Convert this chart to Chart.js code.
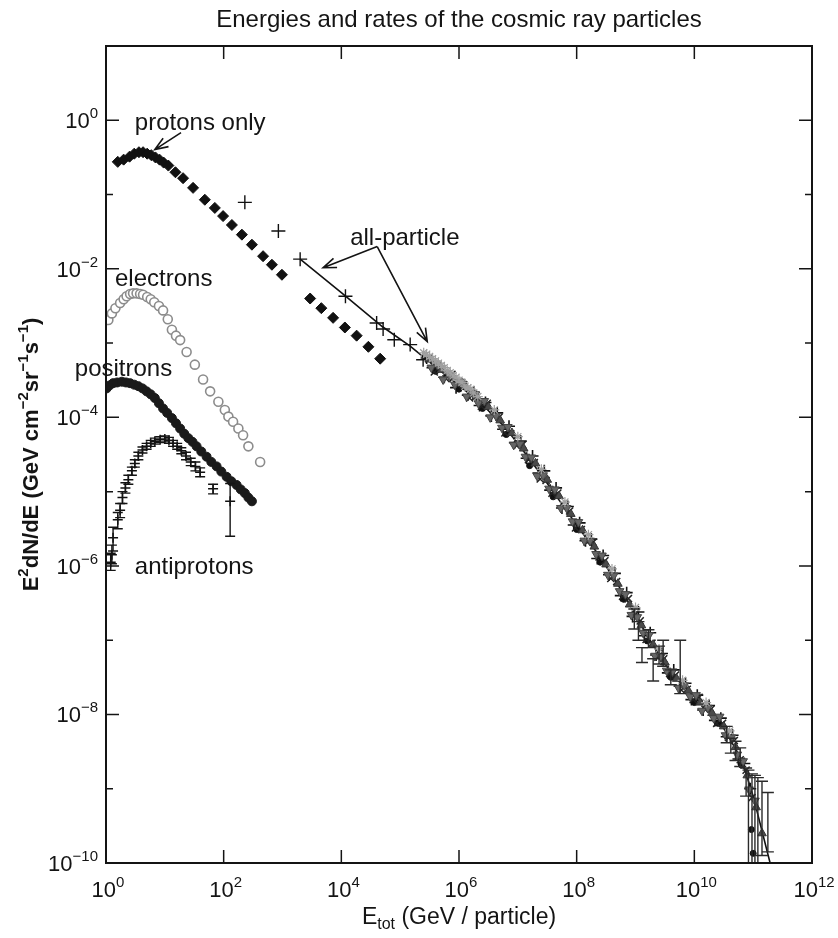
<!DOCTYPE html>
<html>
<head>
<meta charset="utf-8">
<script src="https://cdn.jsdelivr.net/npm/chart.js@4.4.1/dist/chart.umd.min.js"></script>
<style>
  html, body { margin: 0; padding: 0; background: #fff; }
  #wrap { width: 838px; height: 938px; }
</style>
</head>
<body>
<div id="wrap"><canvas id="chart" width="838" height="938"></canvas></div>
<script>
// values, stored as log10(E) and log10(E^2 dN/dE)

// protons only (black diamonds)
const protonLogE = [0.20, 0.30, 0.40, 0.48, 0.56, 0.63, 0.70, 0.77, 0.84, 0.91, 0.98, 1.06, 1.18, 1.31, 1.48, 1.68, 1.85, 1.99, 2.14, 2.31, 2.48, 2.67, 2.82, 2.99, 3.47, 3.66, 3.86, 4.06, 4.26, 4.46, 4.66];
const protonLogF = [-0.56, -0.53, -0.49, -0.45, -0.43, -0.43, -0.45, -0.47, -0.50, -0.53, -0.57, -0.61, -0.70, -0.78, -0.91, -1.07, -1.18, -1.29, -1.41, -1.54, -1.675, -1.83, -1.945, -2.08, -2.40, -2.53, -2.66, -2.79, -2.90, -3.05, -3.21];

// electrons (grey open markers)
const electronLogE = [0.04, 0.10, 0.16, 0.24, 0.30, 0.35, 0.41, 0.46, 0.52, 0.58, 0.63, 0.70, 0.76, 0.82, 0.90, 0.97, 1.05, 1.12, 1.19, 1.26, 1.37, 1.51, 1.65, 1.77, 1.91, 2.02, 2.08, 2.16, 2.25, 2.33, 2.42, 2.62];
const electronLogF = [-2.69, -2.60, -2.53, -2.46, -2.41, -2.37, -2.34, -2.33, -2.33, -2.34, -2.35, -2.38, -2.41, -2.45, -2.50, -2.56, -2.68, -2.82, -2.90, -2.96, -3.12, -3.29, -3.49, -3.65, -3.79, -3.90, -3.99, -4.06, -4.15, -4.24, -4.39, -4.60];

// positrons (black dots)
const positronLogE = [0.01, 0.06, 0.12, 0.19, 0.27, 0.34, 0.41, 0.48, 0.55, 0.62, 0.69, 0.76, 0.83, 0.90, 0.97, 1.04, 1.12, 1.19, 1.26, 1.33, 1.40, 1.47, 1.54, 1.62, 1.71, 1.79, 1.88, 1.96, 2.05, 2.13, 2.22, 2.29, 2.36, 2.42, 2.48];
const positronLogF = [-3.61, -3.57, -3.54, -3.53, -3.52, -3.53, -3.54, -3.56, -3.58, -3.61, -3.65, -3.69, -3.74, -3.81, -3.88, -3.94, -4.01, -4.08, -4.15, -4.22, -4.28, -4.33, -4.39, -4.46, -4.53, -4.60, -4.66, -4.73, -4.80, -4.86, -4.91, -4.97, -5.02, -5.08, -5.13];

// antiprotons (crosses with error bars)
const pbarLogE = [0.08, 0.10, 0.12, 0.20, 0.24, 0.28, 0.33, 0.38, 0.44, 0.49, 0.55, 0.62, 0.69, 0.76, 0.83, 0.92, 1.00, 1.07, 1.14, 1.21, 1.28, 1.36, 1.44, 1.52, 1.60, 1.82, 2.11];
const pbarLogF = [-5.95, -5.85, -5.62, -5.38, -5.25, -5.08, -4.95, -4.84, -4.72, -4.62, -4.52, -4.44, -4.39, -4.35, -4.32, -4.30, -4.29, -4.31, -4.35, -4.39, -4.45, -4.52, -4.60, -4.66, -4.74, -4.96, -5.13];
const pbarLogLo = [-6.06, -5.97, -5.80, -5.50, -5.35, -5.16, -5.02, -4.90, -4.78, -4.67, -4.57, -4.48, -4.43, -4.39, -4.36, -4.34, -4.33, -4.35, -4.39, -4.43, -4.49, -4.57, -4.65, -4.72, -4.80, -5.03, -5.60];
const pbarLogHi = [-5.83, -5.72, -5.48, -5.28, -5.16, -5.00, -4.88, -4.78, -4.67, -4.57, -4.47, -4.40, -4.35, -4.31, -4.28, -4.26, -4.25, -4.27, -4.31, -4.35, -4.41, -4.47, -4.55, -4.60, -4.68, -4.90, -4.89];

// all-particle, sparse points at low energy
const allLogE = [2.36, 2.93, 3.30, 4.07, 4.60, 4.71, 4.90, 5.17, 5.39];
const allLogF = [-1.105, -1.49, -1.87, -2.37, -2.73, -2.81, -2.955, -3.02, -3.225];

// all-particle band, black crosses
const bandALogE = [5.45, 5.55, 5.65, 5.75, 5.85, 5.95, 6.05, 6.15, 6.25, 6.35, 6.45, 6.55, 6.65, 6.75, 6.85, 6.95, 7.05, 7.15, 7.25, 7.35, 7.45, 7.55, 7.65, 7.75, 7.85, 7.95, 8.05, 8.15, 8.25, 8.35, 8.45, 8.55, 8.65, 8.75, 8.85, 8.95, 9.05, 9.15, 9.25, 9.35, 9.45, 9.55, 9.65, 9.75, 9.85, 9.95, 10.05, 10.15, 10.25, 10.35, 10.45, 10.55, 10.65, 10.75, 10.85, 10.95];
const bandALogF = [-3.20, -3.33, -3.31, -3.46, -3.44, -3.60, -3.55, -3.70, -3.66, -3.84, -3.80, -3.98, -3.94, -4.16, -4.12, -4.34, -4.32, -4.55, -4.52, -4.75, -4.72, -4.98, -4.95, -5.22, -5.20, -5.45, -5.42, -5.66, -5.64, -5.90, -5.86, -6.12, -6.10, -6.40, -6.36, -6.68, -6.62, -6.94, -6.90, -7.20, -7.18, -7.44, -7.40, -7.62, -7.58, -7.80, -7.74, -7.94, -7.88, -8.08, -8.05, -8.30, -8.28, -8.60, -8.66, -9.00];

// all-particle band, dark triangles
const bandBLogE = [5.5, 5.7, 5.9, 6.1, 6.3, 6.5, 6.7, 6.9, 7.1, 7.3, 7.5, 7.7, 7.9, 8.1, 8.3, 8.5, 8.7, 8.9, 9.1, 9.3, 9.5, 9.7, 9.9, 10.1, 10.3, 10.5, 10.7, 10.9, 11.05, 11.15];
const bandBLogF = [-3.22, -3.36, -3.46, -3.57, -3.72, -3.86, -4.04, -4.21, -4.42, -4.62, -4.84, -5.06, -5.30, -5.52, -5.74, -5.98, -6.24, -6.52, -6.80, -7.06, -7.30, -7.52, -7.68, -7.84, -7.98, -8.16, -8.44, -8.82, -9.25, -9.60];

// all-particle band, light grey stars (upper edge, mostly near the start)
const bandCLogE = [5.40, 5.45, 5.50, 5.55, 5.60, 5.65, 5.70, 5.75, 5.80, 5.85, 5.90, 5.95, 6.00, 6.05, 6.10, 6.15, 6.20, 6.25, 6.32, 6.6, 7.0, 7.4, 7.8, 8.2, 8.6, 9.0, 9.4, 9.8, 10.2, 10.6];
const bandCLogF = [-3.13, -3.15, -3.18, -3.21, -3.24, -3.27, -3.30, -3.33, -3.37, -3.40, -3.44, -3.46, -3.50, -3.53, -3.58, -3.60, -3.62, -3.67, -3.72, -3.90, -4.26, -4.70, -5.14, -5.58, -6.04, -6.56, -7.12, -7.54, -7.84, -8.22];

// all-particle band, black dots (lower edge)
const bandDLogE = [5.6, 6.0, 6.4, 6.8, 7.2, 7.6, 8.0, 8.4, 8.8, 9.2, 9.6, 10.0, 10.4, 10.8, 10.97, 11.0];
const bandDLogF = [-3.38, -3.62, -3.88, -4.23, -4.65, -5.07, -5.51, -5.95, -6.45, -7.01, -7.50, -7.84, -8.12, -8.68, -9.55, -9.87];

// all-particle band, dark x markers
const bandELogE = [5.48, 5.58, 5.68, 5.78, 5.88, 5.98, 6.08, 6.18, 6.28, 6.38, 6.48, 6.58, 6.68, 6.78, 6.88, 6.98, 7.08, 7.18, 7.28, 7.38, 7.48, 7.58, 7.68, 7.78, 7.88, 7.98, 8.08, 8.18, 8.28, 8.38, 8.48, 8.58, 8.68, 8.78, 8.88, 8.98, 9.08, 9.18, 9.28, 9.38, 9.48, 9.58, 9.68, 9.78, 9.88, 9.98, 10.08, 10.18, 10.28, 10.38, 10.48, 10.58, 10.68, 10.78, 10.88, 10.98];
const bandELogF = [-3.21, -3.39, -3.36, -3.48, -3.42, -3.57, -3.56, -3.74, -3.72, -3.85, -3.81, -3.98, -4.00, -4.21, -4.22, -4.38, -4.37, -4.57, -4.61, -4.83, -4.85, -5.02, -5.02, -5.22, -5.26, -5.49, -5.51, -5.68, -5.68, -5.88, -5.93, -6.17, -6.21, -6.41, -6.44, -6.67, -6.74, -6.99, -7.04, -7.23, -7.25, -7.45, -7.47, -7.67, -7.66, -7.80, -7.77, -7.93, -7.93, -8.12, -8.12, -8.31, -8.35, -8.61, -8.75, -9.12];

// all-particle band, grey down-triangles
const bandFLogE = [5.53, 5.63, 5.73, 5.83, 5.93, 6.03, 6.13, 6.23, 6.33, 6.43, 6.53, 6.63, 6.73, 6.83, 6.93, 7.03, 7.13, 7.23, 7.33, 7.43, 7.53, 7.63, 7.73, 7.83, 7.93, 8.03, 8.13, 8.23, 8.33, 8.43, 8.53, 8.63, 8.73, 8.83, 8.93, 9.03, 9.13, 9.23, 9.33, 9.43, 9.53, 9.63, 9.73, 9.83, 9.93, 10.03, 10.13, 10.23, 10.33, 10.43, 10.53, 10.63, 10.73, 10.83, 10.93, 11.03];
const bandFLogF = [-3.33, -3.29, -3.49, -3.43, -3.56, -3.52, -3.72, -3.67, -3.81, -3.78, -4.00, -3.98, -4.14, -4.13, -4.37, -4.36, -4.53, -4.54, -4.79, -4.78, -4.96, -4.97, -5.22, -5.22, -5.40, -5.41, -5.66, -5.66, -5.84, -5.86, -6.12, -6.13, -6.34, -6.38, -6.66, -6.69, -6.90, -6.93, -7.21, -7.22, -7.41, -7.42, -7.64, -7.61, -7.76, -7.74, -7.95, -7.91, -8.05, -8.03, -8.28, -8.31, -8.54, -8.63, -9.01, -9.16];

// error bars in the band
const bandErrLogE = [8.98, 9.05, 9.11, 9.22, 9.30, 9.40, 9.47, 9.60, 9.76, 10.55, 10.62, 10.70, 10.78, 10.88, 10.92, 10.98, 11.03, 11.08, 11.15, 11.25];
const bandErrLogF = [-6.70, -6.86, -7.20, -6.98, -7.35, -7.20, -7.15, -7.50, -7.40, -8.26, -8.42, -8.48, -8.55, -8.90, -9.05, -9.55, -9.20, -9.30, -9.40, -9.60];
const bandErrLogLo = [-6.85, -7.00, -7.30, -7.10, -7.55, -7.32, -7.35, -7.60, -7.72, -8.38, -8.52, -8.62, -8.70, -9.10, -10.2, -10.2, -10.2, -10.2, -9.90, -9.85];
const bandErrLogHi = [-6.58, -6.75, -7.10, -6.86, -7.25, -7.08, -7.00, -7.40, -7.00, -8.16, -8.32, -8.36, -8.45, -8.72, -8.75, -8.80, -8.82, -8.85, -8.90, -9.05];

// fitted all-particle line
const fitLogE = [3.30, 4.0, 4.7, 5.17, 5.6, 6.0, 6.4, 6.8, 7.2, 7.6, 8.0, 8.4, 8.8, 9.2, 9.6, 10.0, 10.4, 10.8, 11.0, 11.32];
const fitLogF = [-1.87, -2.32, -2.78, -3.04, -3.32, -3.57, -3.83, -4.15, -4.56, -5.00, -5.45, -5.88, -6.38, -6.94, -7.44, -7.76, -8.05, -8.60, -9.10, -10.1];

// axis ticks (exponents)
const xTickExp = [0, 2, 4, 6, 8, 10, 12];
const yTickExp = [-10, -8, -6, -4, -2, 0];
const yMinorExp = [-9, -7, -5, -3, -1];

const FONT = '"Liberation Sans", Arial, sans-serif';
const INK = '#141414';

function pts(lx, ly) {
    return lx.map((v, i) => ({ x: Math.pow(10, v), y: Math.pow(10, ly[i]) }));
}

function sup(n) {
    return String(n).replace('-', '\u2212');
}

// draws a row of text pieces, each with its own size and vertical shift
function drawRuns(ctx, runs, x, y, align) {
    let total = 0;
    runs.forEach(r => {
        ctx.font = (r.bold ? 'bold ' : '') + r.size + 'px ' + FONT;
        r.w = ctx.measureText(r.t).width;
        total += r.w;
    });
    let cx = align === 'right' ? x - total : align === 'center' ? x - total / 2 : x;
    ctx.textAlign = 'left';
    ctx.textBaseline = 'alphabetic';
    runs.forEach(r => {
        ctx.font = (r.bold ? 'bold ' : '') + r.size + 'px ' + FONT;
        ctx.fillText(r.t, cx, y + (r.dy || 0));
        cx += r.w;
    });
}

function arrow(ctx, x1, y1, x2, y2) {
    const ang = Math.atan2(y2 - y1, x2 - x1);
    const L = 14, W = 0.36;
    ctx.beginPath();
    ctx.moveTo(x1, y1);
    ctx.lineTo(x2, y2);
    ctx.moveTo(x2 - L * Math.cos(ang - W), y2 - L * Math.sin(ang - W));
    ctx.lineTo(x2, y2);
    ctx.lineTo(x2 - L * Math.cos(ang + W), y2 - L * Math.sin(ang + W));
    ctx.stroke();
}

const decor = {
    id: 'decor',
    afterDatasetsDraw(chart) {
        const { ctx, chartArea: a, scales: { x, y } } = chart;
        const px = v => x.getPixelForValue(Math.pow(10, v));
        const py = v => y.getPixelForValue(Math.pow(10, v));

        ctx.save();
        ctx.strokeStyle = INK;
        ctx.fillStyle = INK;

        // error bars, clipped to the plot
        ctx.save();
        ctx.beginPath();
        ctx.rect(a.left, a.top, a.right - a.left, a.bottom - a.top);
        ctx.clip();
        ctx.lineWidth = 1.4;
        const bars = (le, lo, hi, cap) => {
            le.forEach((v, i) => {
                const bx = px(v), t = py(hi[i]), b = py(lo[i]);
                ctx.beginPath();
                ctx.moveTo(bx, t); ctx.lineTo(bx, b);
                ctx.moveTo(bx - cap, t); ctx.lineTo(bx + cap, t);
                ctx.moveTo(bx - cap, b); ctx.lineTo(bx + cap, b);
                ctx.stroke();
            });
        };
        bars(pbarLogE, pbarLogLo, pbarLogHi, 5);
        ctx.strokeStyle = '#2a2a2a';
        bars(bandErrLogE, bandErrLogLo, bandErrLogHi, 6);
        ctx.restore();

        // frame
        ctx.lineWidth = 2;
        ctx.strokeRect(a.left, a.top, a.right - a.left, a.bottom - a.top);

        // inward ticks
        ctx.lineWidth = 1.5;
        ctx.beginPath();
        xTickExp.forEach(e => {
            const tx = px(e);
            ctx.moveTo(tx, a.bottom); ctx.lineTo(tx, a.bottom - 13);
            ctx.moveTo(tx, a.top); ctx.lineTo(tx, a.top + 13);
        });
        yTickExp.forEach(e => {
            const ty = py(e);
            ctx.moveTo(a.left, ty); ctx.lineTo(a.left + 13, ty);
            ctx.moveTo(a.right, ty); ctx.lineTo(a.right - 13, ty);
        });
        yMinorExp.forEach(e => {
            const ty = py(e);
            ctx.moveTo(a.left, ty); ctx.lineTo(a.left + 7, ty);
            ctx.moveTo(a.right, ty); ctx.lineTo(a.right - 7, ty);
        });
        ctx.stroke();

        // tick labels
        xTickExp.forEach(e => {
            drawRuns(ctx, [{ t: '10', size: 22 }, { t: sup(e), size: 15, dy: -10 }], px(e) + 2, a.bottom + 34, 'center');
        });
        yTickExp.forEach(e => {
            drawRuns(ctx, [{ t: '10', size: 22 }, { t: sup(e), size: 15, dy: -10 }], a.left - 8, py(e) + 8, 'right');
        });

        // title
        drawRuns(ctx, [{ t: 'Energies and rates of the cosmic ray particles', size: 24 }], (a.left + a.right) / 2, 27, 'center');

        // x title
        drawRuns(ctx, [
            { t: 'E', size: 23 }, { t: 'tot', size: 16, dy: 5 }, { t: ' (GeV / particle)', size: 23 }
        ], (a.left + a.right) / 2, 924, 'center');

        // y title
        ctx.save();
        ctx.translate(30, (a.top + a.bottom) / 2);
        ctx.rotate(-Math.PI / 2);
        drawRuns(ctx, [
            { t: 'E', size: 22, bold: true }, { t: '2', size: 15, dy: -10, bold: true }, { t: 'dN/dE (GeV cm', size: 22, bold: true },
            { t: '\u22122', size: 15, dy: -10, bold: true }, { t: 'sr', size: 22, bold: true }, { t: '\u22121', size: 15, dy: -10, bold: true },
            { t: 's', size: 22, bold: true }, { t: '\u22121', size: 15, dy: -10, bold: true }, { t: ')', size: 22, bold: true }
        ], 0, 8, 'center');
        ctx.restore();

        // annotations
        drawRuns(ctx, [{ t: 'protons only', size: 24 }], px(0.49), py(-0.125), 'left');
        drawRuns(ctx, [{ t: 'electrons', size: 24 }], px(0.153), py(-2.23), 'left');
        drawRuns(ctx, [{ t: 'positrons', size: 24 }], px(-0.53), py(-3.44), 'left');
        drawRuns(ctx, [{ t: 'antiprotons', size: 24 }], px(0.49), py(-6.11), 'left');
        drawRuns(ctx, [{ t: 'all-particle', size: 24 }], px(4.15), py(-1.68), 'left');

        ctx.lineWidth = 1.6;
        arrow(ctx, px(1.275), py(-0.166), px(0.83), py(-0.395));
        arrow(ctx, px(4.61), py(-1.70), px(3.69), py(-1.985));
        arrow(ctx, px(4.61), py(-1.70), px(5.46), py(-2.98));

        ctx.restore();
    }
};

new Chart(document.getElementById('chart'), {
    type: 'scatter',
    data: {
        datasets: [
            {
                data: pts(bandCLogE, bandCLogF), pointStyle: 'star', pointRadius: 5,
                borderColor: '#a0a0a0', backgroundColor: '#a0a0a0', borderWidth: 1.2
            },
            {
                data: pts(bandFLogE, bandFLogF), pointStyle: 'triangle', rotation: 180, pointRadius: 5,
                borderColor: '#444', backgroundColor: '#666', borderWidth: 1
            },
            {
                data: pts(bandBLogE, bandBLogF), pointStyle: 'triangle', pointRadius: 5,
                borderColor: '#333', backgroundColor: '#4a4a4a', borderWidth: 1
            },
            {
                data: pts(bandELogE, bandELogF), pointStyle: 'crossRot', pointRadius: 5,
                borderColor: '#222', borderWidth: 1.5
            },
            {
                data: pts(bandALogE, bandALogF), pointStyle: 'cross', pointRadius: 6,
                borderColor: '#111', borderWidth: 1.6
            },
            {
                data: pts(bandDLogE, bandDLogF), pointStyle: 'circle', pointRadius: 3,
                borderColor: '#111', backgroundColor: '#111', borderWidth: 1
            },
            {
                type: 'line', data: pts(fitLogE, fitLogF), pointRadius: 0,
                borderColor: '#111', borderWidth: 1.6, fill: false, tension: 0
            },
            {
                data: pts(allLogE, allLogF), pointStyle: 'cross', pointRadius: 7,
                borderColor: '#111', borderWidth: 1.4
            },
            {
                data: pts(protonLogE, protonLogF), pointStyle: 'rectRot', pointRadius: 5.5,
                borderColor: '#111', backgroundColor: '#111', borderWidth: 1
            },
            {
                data: pts(electronLogE, electronLogF), pointStyle: 'circle', pointRadius: 4.5,
                borderColor: '#8c8c8c', backgroundColor: '#fff', borderWidth: 1.6
            },
            {
                data: pts(electronLogE, electronLogF), pointStyle: 'circle', pointRadius: 1,
                borderColor: '#8c8c8c', backgroundColor: '#8c8c8c', borderWidth: 1
            },
            {
                data: pts(positronLogE, positronLogF), pointStyle: 'circle', pointRadius: 4.5,
                borderColor: '#1a1a1a', backgroundColor: '#1a1a1a', borderWidth: 1
            },
            {
                data: pts(pbarLogE, pbarLogF), pointStyle: 'cross', pointRadius: 5,
                borderColor: '#111', borderWidth: 1.5
            }
        ]
    },
    options: {
        responsive: false,
        animation: false,
        devicePixelRatio: 1,
        layout: { padding: { top: 46, right: 26, left: 0, bottom: 0 } },
        plugins: { legend: { display: false }, tooltip: { enabled: false }, title: { display: false } },
        scales: {
            x: {
                type: 'logarithmic', min: 1, max: 1e12,
                grid: { display: false }, border: { display: false }, ticks: { display: false },
                afterFit: s => { s.height = 75; }
            },
            y: {
                type: 'logarithmic', min: 1e-10, max: 10,
                grid: { display: false }, border: { display: false }, ticks: { display: false },
                afterFit: s => { s.width = 106; }
            }
        }
    },
    plugins: [decor]
});
</script>
</body>
</html>
